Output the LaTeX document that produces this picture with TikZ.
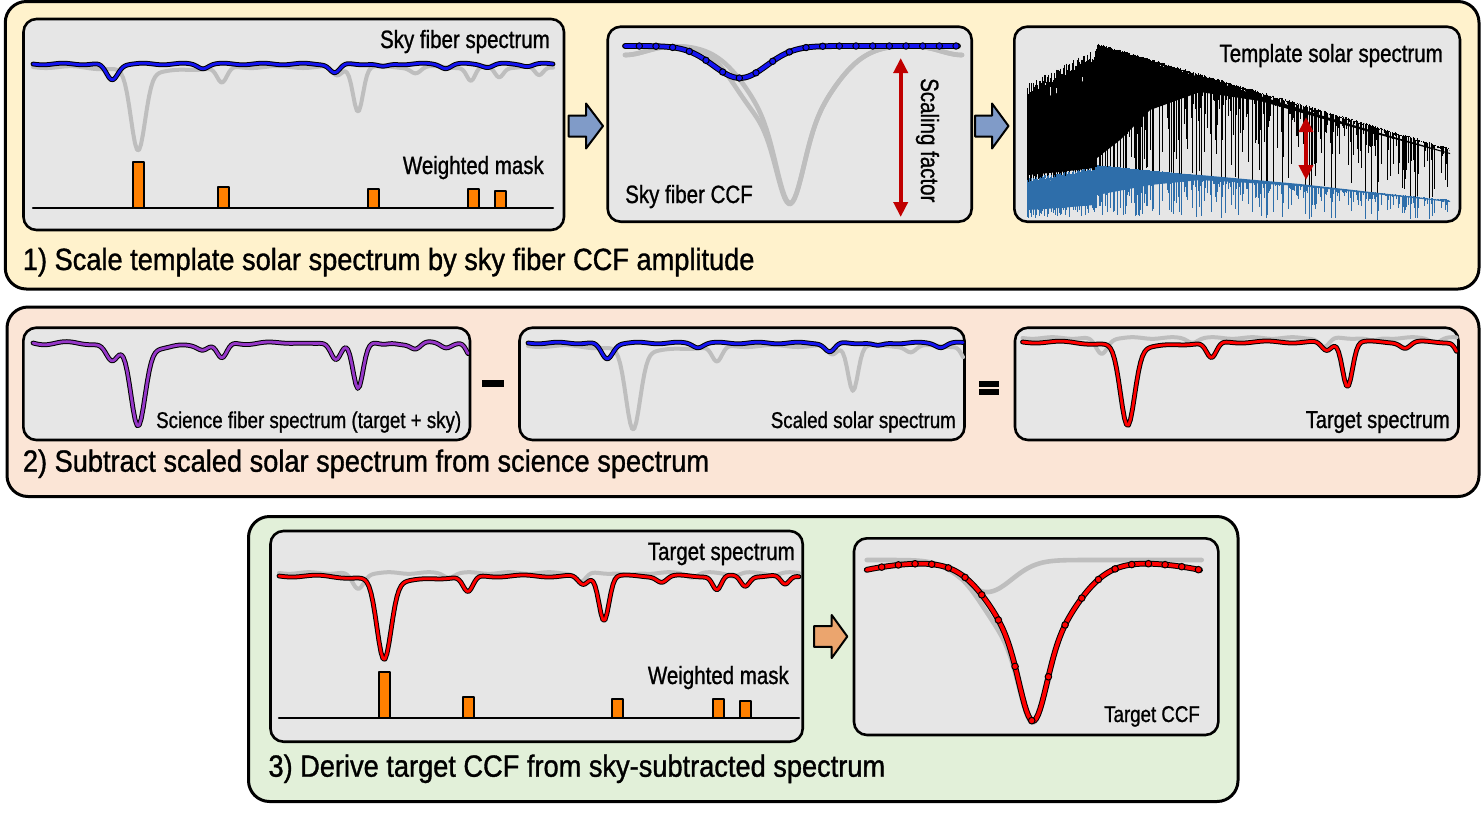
\documentclass[tikz,border=0pt]{standalone}
\usepackage{fontspec}
\setmainfont{Liberation Sans}[FakeStretch=0.82,FakeBold=1.0]
\newfontfamily\bigfont{Liberation Sans}[FakeStretch=0.886,FakeBold=1.1]
\usetikzlibrary{arrows.meta}
\definecolor{p1fill}{RGB}{255,242,204}
\definecolor{p2fill}{RGB}{251,229,214}
\definecolor{p3fill}{RGB}{226,240,217}
\definecolor{boxgray}{RGB}{230,230,230}
\definecolor{lgray}{RGB}{190,190,190}
\definecolor{skyblue}{RGB}{20,20,240}
\definecolor{purp}{RGB}{150,55,200}
\definecolor{maskorange}{RGB}{255,128,0}
\definecolor{arrblue}{RGB}{128,155,200}
\definecolor{arrorange}{RGB}{235,165,110}
\definecolor{darkred}{RGB}{192,0,0}
\definecolor{solblue}{RGB}{46,110,170}
\tikzset{
  panel/.style={draw=black, line width=3pt, rounded corners=21pt, inner sep=0pt},
  box/.style={draw=black, line width=2.6pt, rounded corners=13pt, fill=boxgray, inner sep=0pt},
  gline/.style={draw=lgray, line width=4pt},
  cline/.style={draw=#1, line width=2.8pt, preaction={draw=black, line width=4.8pt}},
  ccfline/.style={draw=#1, line width=3.8pt, preaction={draw=black, line width=5.8pt}},
  ccfgray/.style={draw=lgray, line width=4.6pt},
  ccfdot/.style={fill=#1, draw=black, line width=1pt},
  maskbar/.style={fill=maskorange, draw=black, line width=2pt},
  baseln/.style={draw=black, line width=2.2pt},
  blockarrow/.style={draw=black, line width=2pt, fill=#1},
  sfarrow/.style={draw=darkred, line width=4pt, {Triangle[width=14pt,length=15pt]}-{Triangle[width=14pt,length=15pt]}},
  lbl/.style={inner sep=0pt, font=\fontsize{25}{30}\selectfont},
  slbl/.style={inner sep=0pt, font=\fontsize{22.8}{27}\selectfont},
  biglbl/.style={inner sep=0pt, anchor=base west, font=\bigfont\fontsize{30.7}{36}\selectfont},
  signbar/.style={fill=black}
}
\begin{document}
\begin{tikzpicture}[x=1pt,y=-1pt,line join=round,line cap=round,
  declare function={
    gs(\pa,\pb)=exp(0-min(abs(\pa)/\pb,6)*min(abs(\pa)/\pb,6));
    tgt(\pa)=79*gs(\pa-105,10)+5*gs(\pa-120,45)+16*gs(\pa-189,7)+9*gs(\pa-304,7)+44*gs(\pa-325,7)+6*gs(\pa-383,7)+14*gs(\pa-438,6)+10*gs(\pa-466,6)+9*gs(\pa-506,6)+1*sin(7*\pa);
    sky(\pa)=16*gs(\pa-79,8)+4*gs(\pa-170,7)+9*gs(\pa-302,7)+3*gs(\pa-350,8)+4*gs(\pa-413,7)+3*gs(\pa-455,7)+2*gs(\pa-495,7)+0.8*sin(9*\pa);
    ccfA(\pa)=70*gs(\pa,18)+88*gs(\pa,52);
    tcont(\pa)=9*(\pa/167)*(\pa/167)*(\pa/167)*(\pa/167);
  }]
\useasboundingbox (0,0) rectangle (1481,812);

% ---------- panels ----------
\node[panel, fill=p1fill, minimum width=1473.7pt, minimum height=287.5pt] (p1) at (742.15,145.25) {};
\node[panel, fill=p2fill, minimum width=1472pt, minimum height=189.5pt] (p2) at (743,401.75) {};
\node[panel, fill=p3fill, minimum width=989.5pt, minimum height=285pt] (p3) at (743.25,659) {};

% ---------- boxes ----------
\node[box, minimum width=540.5pt, minimum height=211pt] (b1a) at (293.75,124.5) {};
\node[box, minimum width=364pt, minimum height=195pt] (b1b) at (789.7,124.2) {};
\node[box, minimum width=445.7pt, minimum height=195pt] (b1c) at (1237.15,124.2) {};
\node[box, minimum width=446.7pt, minimum height=112.3pt] (b2a) at (246.65,383.85) {};
\node[box, minimum width=445pt, minimum height=112.3pt] (b2b) at (742,383.85) {};
\node[box, minimum width=443.5pt, minimum height=112.3pt] (b2c) at (1236.75,383.85) {};
\node[box, minimum width=532.2pt, minimum height=210.7pt] (b3a) at (536.6,636.35) {};
\node[box, minimum width=364.3pt, minimum height=196.7pt] (b3b) at (1036.15,636.65) {};

% ---------- block arrows ----------
\coordinate (ar1) at (568.5,126);
\draw[blockarrow=arrblue] (ar1) ++(0,-10.5) -- ++(17.5,0) -- ++(0,-12) -- ++(17,22.5) -- ++(-17,22.5) -- ++(0,-12) -- ++(-17.5,0) -- cycle;
\coordinate (ar2) at (975,126);
\draw[blockarrow=arrblue] (ar2) ++(0,-10.5) -- ++(17,0) -- ++(0,-12) -- ++(16.5,22.5) -- ++(-16.5,22.5) -- ++(0,-12) -- ++(-17,0) -- cycle;
\coordinate (ar3) at (814,636.5);
\draw[blockarrow=arrorange] (ar3) ++(0,-10.3) -- ++(17.7,0) -- ++(0,-11.2) -- ++(15.6,21.5) -- ++(-15.6,21.5) -- ++(0,-11.2) -- ++(-17.7,0) -- cycle;

% ---------- box 1a ----------
\draw[gline] plot[domain=0:520,samples=261] ({33+\x},{67+tgt(\x)});
\draw[cline=skyblue] plot[domain=0:520,samples=261] ({33+\x},{64+sky(\x)});
\draw[baseln] (33,208) -- (553,208);
\foreach \c/\t in {138.5/162,223/187,373/189,473/189,500.5/191}
  \filldraw[maskbar] (\c-5.5,208) rectangle (\c+5.5,\t);
\node[lbl, anchor=base east] (t1a) at (550,48) {Sky fiber spectrum};
\node[lbl, anchor=base east] (t1am) at (544,174) {Weighted mask};

% ---------- box 1b ----------
\draw[ccfgray] plot[domain=625:962,samples=170] (\x,{45+ccfA(\x-790)+10*gs(\x-625,30)+10*gs(\x-962,30)+14*gs(\x-745,28)});
\draw[ccfgray] plot[domain=625:962,samples=170] (\x,{45+ccfA(\x-790)+10*gs(\x-625,30)+10*gs(\x-962,30)});
\draw[ccfline=skyblue] plot[domain=625:958,samples=170] (\x,{46+32*gs(\x-740,38)});
\foreach \k in {0,...,19} {
  \pgfmathsetmacro\xx{639.3+16.67*\k}
  \filldraw[ccfdot=skyblue] (\xx,{46+32*gs(\xx-740,38)}) circle[radius=3.2pt];
}
\coordinate (sfa) at (900.7,58);
\coordinate (sfb) at (900.7,217);
\draw[sfarrow] (sfa) -- (sfb);
\node[lbl, anchor=base west] (t1b) at (625,203) {Sky fiber CCF};
\node[lbl, anchor=base west, rotate=-90] (tsf) at (921,78) {Scaling factor};

% ---------- box 1c ----------
\fill[black] (1027,104) -- (1060,92) -- (1094,76) -- (1097,50) -- (1150,63) -- (1200,77) -- (1260,96) -- (1320,115) -- (1380,133) -- (1450,153)
  -- (1450,154) -- (1380,135) -- (1320,118) -- (1260,101) -- (1200,92) -- (1150,110) -- (1120,140) -- (1097,158) -- (1094,168) -- (1060,172) -- (1027,175) -- cycle;
\pgfmathsetseed{12}
\foreach \i in {0,...,563} {
  \pgfmathsetmacro\xx{1027+0.75*\i}
  \pgfmathsetmacro\jit{rnd}
  \pgfmathsetmacro\rr{max(rnd,0.001)}
  \pgfmathsetmacro\ytop{(\xx<1097) ? (95-0.5*(\xx-1027)-12*\jit) : (43+0.298*(\xx-1097)+2*\jit)}
  \pgfmathsetmacro\kk{0.4+4.1*(\xx-1027)/424}
  \pgfmathsetmacro\ff{0.85*\rr^\kk}
  \draw[black, line width=1pt, line cap=butt] (\xx,\ytop) -- (\xx,{\ytop+\ff*(225-\ytop)});
}
\fill[solblue] (1027,184) -- (1060,179) -- (1096,173) -- (1097,168) -- (1200,175) -- (1300,184) -- (1450,201)
  -- (1450,202) -- (1300,186) -- (1200,180) -- (1150,185) -- (1097,195) -- (1094,205) -- (1060,208) -- (1027,210) -- cycle;
\pgfmathsetseed{12}
\foreach \i in {0,...,563} {
  \pgfmathsetmacro\xx{1027+0.75*\i}
  \pgfmathsetmacro\jit{rnd}
  \pgfmathsetmacro\rr{max(rnd,0.001)}
  \pgfmathsetmacro\ytop{(\xx<1097) ? (95-0.5*(\xx-1027)-12*\jit) : (43+0.298*(\xx-1097)+2*\jit)}
  \pgfmathsetmacro\kk{0.4+4.1*(\xx-1027)/424}
  \pgfmathsetmacro\ff{0.85*\rr^\kk}
  \draw[solblue, line width=1pt, line cap=butt] (\xx,{225-0.33*(225-\ytop)}) -- (\xx,{225-0.33*(225-\ytop)*(1-\ff)});
}
\coordinate (tsa) at (1306,117);
\coordinate (tsb) at (1306,180);
\draw[sfarrow] (tsa) -- (tsb);
\node[lbl, anchor=base east] (t1c) at (1443,62) {Template solar spectrum};

% ---------- box 2a ----------
\draw[cline=purp] plot[domain=0:435,samples=218] ({33+\x},{343+tgt(\x)+sky(\x)});
\node[slbl, anchor=base west] (t2a) at (156,428) {Science fiber spectrum (target + sky)};

% ---------- minus ----------
\fill[signbar] (481.5,379.5) rectangle (503.5,386.5);

% ---------- box 2b ----------
\draw[gline] plot[domain=0:435,samples=218] ({528+\x},{346+tgt(\x)});
\draw[cline=skyblue] plot[domain=0:435,samples=218] ({528+\x},{343+sky(\x)});
\node[slbl, anchor=base east] (t2b) at (956,428) {Scaled solar spectrum};

% ---------- equals ----------
\fill[signbar] (979,380.5) rectangle (999,386.5);
\fill[signbar] (979,389) rectangle (999,395);

% ---------- box 2c ----------
\draw[gline] plot[domain=0:434,samples=218] ({1022.5+\x},{338+sky(\x)});
\draw[cline=red] plot[domain=0:434,samples=218] ({1022.5+\x},{342+tgt(\x)});
\node[lbl, anchor=base east, font=\fontsize{24.5}{29}\selectfont] (t2c) at (1450,428) {Target spectrum};

% ---------- box 3a ----------
\draw[gline] plot[domain=0:520,samples=261] ({279+\x},{573+sky(\x)});
\draw[cline=red] plot[domain=0:520,samples=261] ({279+\x},{576+tgt(\x)});
\draw[baseln] (279,718) -- (799,718);
\foreach \c/\t in {384/672,468/697,617/699,718/699,745/701}
  \filldraw[maskbar] (\c-5.5,718) rectangle (\c+5.5,\t);
\node[lbl, anchor=base east] (t3a) at (795,560) {Target spectrum};
\node[lbl, anchor=base east] (t3am) at (789,684) {Weighted mask};

% ---------- box 3b ----------
\draw[ccfgray] plot[domain=866.7:1201.7,samples=170] (\x,{560+32*gs(\x-987,35)});
\draw[ccfgray] plot[domain=866.7:1200,samples=170] (\x,{561+tcont(\x-1033)+160/158*ccfA(\x-1033)+11*gs(\x-992,30)});
\draw[ccfline=red] plot[domain=866.7:1200,samples=170] (\x,{561+tcont(\x-1033)+160/158*ccfA(\x-1033)});
\foreach \k in {0,...,19} {
  \pgfmathsetmacro\xx{881.7+16.67*\k}
  \filldraw[ccfdot=red] (\xx,{561+tcont(\xx-1033)+160/158*ccfA(\xx-1033)}) circle[radius=3.3pt];
}
\node[slbl, anchor=base east] (t3b) at (1200,722) {Target CCF};

% ---------- panel labels ----------
\node[biglbl] (l1) at (22.7,270) {1) Scale template solar spectrum by sky fiber CCF amplitude};
\node[biglbl] (l2) at (22.7,471.7) {2) Subtract scaled solar spectrum from science spectrum};
\node[biglbl] (l3) at (268.3,776.7) {3) Derive target CCF from sky-subtracted spectrum};
\end{tikzpicture}
\end{document}
